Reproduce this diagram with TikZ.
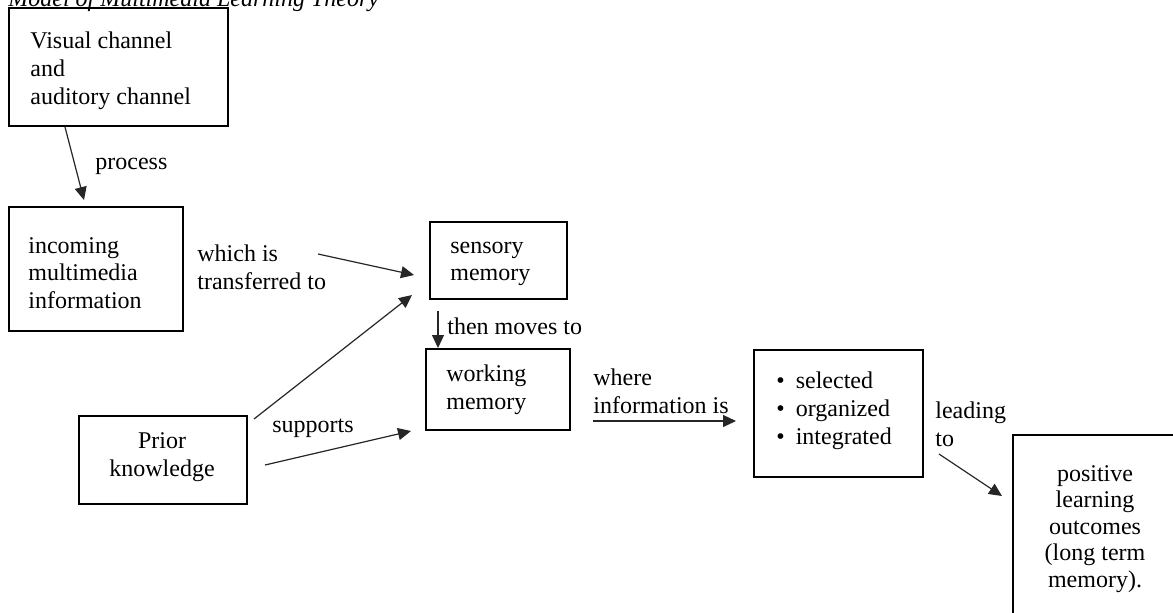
\documentclass[tikz,border=0pt]{standalone}
\usepackage{fontspec}
\setmainfont{Liberation Serif}
\usetikzlibrary{arrows.meta,calc}
\tikzset{
  box/.style={draw, line width=1pt, rectangle, inner sep=0pt},
  txt/.style={inner sep=0pt, align=left, anchor=west},
  ctxt/.style={inner sep=0pt, align=center},
  arr/.style={draw=black!85, line width=0.6pt, -{Triangle[length=6.5pt,width=6pt]}}
}
\begin{document}
\begin{tikzpicture}[x=0.5pt,y=-0.5pt,font=\fontsize{12}{13.9}\selectfont]
\useasboundingbox (0,0) rectangle (1173,612);
\clip (0,0) rectangle (1173,612);
\fill[white] (0,0) rectangle (1173,612);

% title (cut off at the top, as in the reference)
\node[inner sep=0pt, anchor=base west, font=\fontsize{12}{13.9}\selectfont\itshape] (title) at (8,6) {Model of Multimedia Learning Theory};

% boxes
\node[box, minimum width=109.5pt, minimum height=59pt] (b1) at (118.5,67) {};
\node[box, minimum width=87pt, minimum height=62pt] (b2) at (96,269) {};
\node[box, minimum width=68.5pt, minimum height=38.5pt] (sens) at (498.5,260.5) {};
\node[box, minimum width=72pt, minimum height=40.5pt] (work) at (498,389.5) {};
\node[box, minimum width=84pt, minimum height=44pt] (prior) at (163,460) {};
\node[box, minimum width=84.5pt, minimum height=63.5pt] (sel) at (838.5,413.5) {};
\node[box, minimum width=88.5pt, minimum height=102.5pt] (pos) at (1101.5,537.5) {};

% box texts
\node[txt] (b1t) at (30,71) {Visual channel\\and\\auditory channel};
\node[txt] (b2t) at (28,273) {incoming\\multimedia\\information};
\node[txt] (senst) at (450,264) {sensory\\memory};
\node[txt] (workt) at (446,389.5) {working\\memory};
\node[ctxt] (priort) at (162,457) {Prior\\knowledge};
\node[txt] (selt) at (776,411) {\textbullet\hspace{5.5pt}selected\\\textbullet\hspace{5.5pt}organized\\\textbullet\hspace{5.5pt}integrated};
\node[ctxt, font=\fontsize{12}{13.3}\selectfont] (post) at (1095,529) {positive\\learning\\outcomes\\(long term\\memory).};

% connector labels
\node[txt] (lprocess) at (95,166) {process};
\node[txt] (ltransfer) at (197,267) {which is\\transferred to};
\node[txt] (lthen) at (447,326) {then moves to};
\node[txt] (lsupports) at (272,428) {supports};
\node[txt] (lwhere) at (593,391) {where\\information is};
\node[txt] (lleading) at (935,424) {leading\\to};

% connectors
\coordinate (tstart) at (318,254);
\draw[arr] ($(b1.south west)+(57,0)$) -- ($(b2.north west)+(76,-6)$);
\draw[arr] (tstart) -- ($(sens.west)+(-15,14.5)$);
\draw[arr] ($(prior.north east)+(6,4)$) -- ($(sens.south west)+(-17,-5)$);
\draw[arr] ($(prior.east)+(17,5)$) -- ($(work.south west)+(-14,0)$);
\draw[arr] ($(sens.south west)+(9,11)$) -- ($(work.north west)+(13,0)$);
\draw[arr] ($(work.east)+(22,31.5)$) -- ($(sel.west)+(-17,7.5)$);
\draw[arr] ($(sel.south east)+(15,-24)$) -- ($(pos.north west)+(-10,62)$);
\end{tikzpicture}
\end{document}
